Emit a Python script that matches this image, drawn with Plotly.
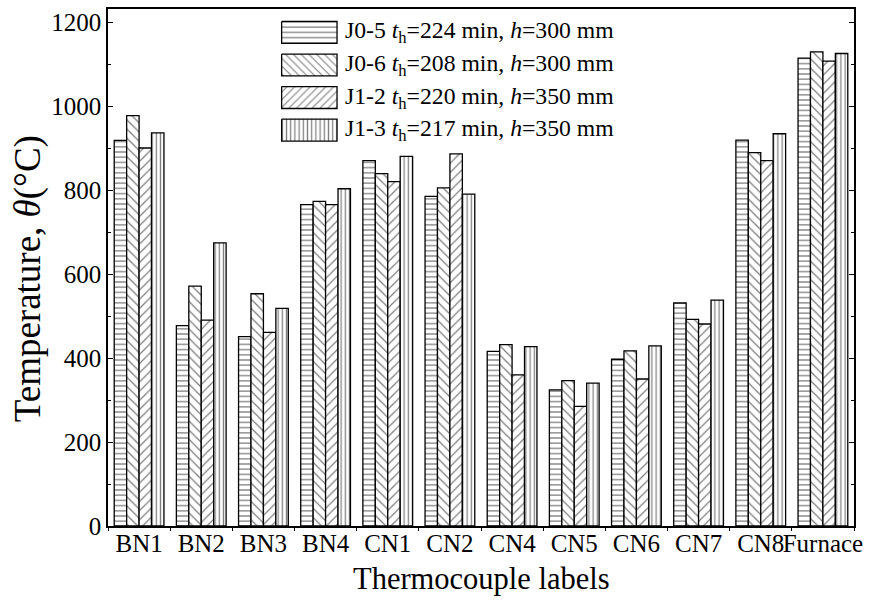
import plotly.graph_objects as go

# Thermocouple positions and measured peak temperatures (°C)
labels = ["BN1", "BN2", "BN3", "BN4", "CN1", "CN2", "CN4", "CN5", "CN6", "CN7", "CN8", "Furnace"]
j0_5 = [918, 477, 451, 765, 870, 785, 416, 324, 397, 531, 919, 1114]
j0_6 = [977, 571, 553, 773, 839, 805, 432, 346, 417, 492, 889, 1129]
j1_2 = [900, 490, 461, 765, 820, 886, 360, 285, 350, 481, 870, 1107]
j1_3 = [936, 674, 518, 803, 880, 790, 427, 340, 429, 538, 934, 1125]

series_names = [
    "J0-5 <i>t</i><sub>h</sub>=224 min, <i>h</i>=300 mm",
    "J0-6 <i>t</i><sub>h</sub>=208 min, <i>h</i>=300 mm",
    "J1-2 <i>t</i><sub>h</sub>=220 min, <i>h</i>=350 mm",
    "J1-3 <i>t</i><sub>h</sub>=217 min, <i>h</i>=350 mm",
]
series_values = [j0_5, j0_6, j1_2, j1_3]
hatches = [("-", 5.2, 0.25), ("\\", 6.5, 0.2), ("/", 6.5, 0.2), ("|", 4.2, 0.3)]

FONT = "Liberation Serif, Times New Roman, serif"

fig = go.Figure()
for name, vals, (shape, size, sol) in zip(series_names, series_values, hatches):
    fig.add_trace(go.Bar(
        x=labels, y=vals, name=name, showlegend=False,
        marker=dict(
            color="white",
            line=dict(color="black", width=1.3),
            pattern=dict(shape=shape, size=size, solidity=sol,
                         fgcolor="black", bgcolor="white"),
        ),
    ))

# Hand-drawn legend: hatched boxes on a pixel-scaled overlay axis pair
box_x0, box_x1 = 283.5, 339.5
row_centers = [30.5, 63.2, 95.9, 128.6]
box_h = 22
for (shape, size, sol), yc in zip(hatches, row_centers):
    y0, y1 = yc - box_h / 2, yc + box_h / 2
    fig.add_trace(go.Scatter(
        x=[box_x0, box_x1, box_x1, box_x0, box_x0],
        y=[y0, y0, y1, y1, y0],
        xaxis="x2", yaxis="y2", mode="lines", fill="toself",
        fillcolor="white",
        fillpattern=dict(shape=shape, size=min(size, 5.5), solidity=sol,
                         fgcolor="black", bgcolor="white"),
        line=dict(color="black", width=1.3),
        showlegend=False, hoverinfo="skip",
    ))

annotations = []
for name, yc in zip(series_names, row_centers):
    annotations.append(dict(
        x=346, y=yc, xref="x2", yref="y2", text=name, showarrow=False,
        xanchor="left", yanchor="middle",
        font=dict(family=FONT, size=23.7, color="black"),
    ))

# Axis titles
annotations.append(dict(
    x=-0.108, y=0.478, xref="paper", yref="paper",
    text="Temperature, <i>θ</i>(°C)", textangle=-90, showarrow=False,
    xanchor="center", yanchor="middle",
    font=dict(family=FONT, size=37, color="black"),
))
annotations.append(dict(
    x=0.5, y=-0.102, xref="paper", yref="paper",
    text="Thermocouple labels", showarrow=False,
    xanchor="center", yanchor="middle",
    font=dict(family=FONT, size=30.5, color="black"),
))

fig.update_layout(
    width=870, height=603,
    margin=dict(l=108, r=8, t=7, b=77),
    paper_bgcolor="white", plot_bgcolor="white",
    barmode="group", bargap=0.2, bargroupgap=0,
    font=dict(family=FONT, color="black"),
    annotations=annotations,
    xaxis=dict(
        type="category", range=[-0.5, 11.5],
        tickson="boundaries", ticks="outside", ticklen=3, tickwidth=1,
        tickcolor="black", tickangle=0, ticklabelstandoff=-6,
        showline=True, linecolor="black", linewidth=1.5, mirror=True,
        showgrid=False, zeroline=False,
        tickfont=dict(family=FONT, size=25, color="black"),
    ),
    yaxis=dict(
        range=[0, 1231], tickmode="array",
        tickvals=[0, 200, 400, 600, 800, 1000, 1200],
        ticks="inside", ticklen=5, tickwidth=1, tickcolor="black",
        minor=dict(tickvals=[100, 300, 500, 700, 900, 1100], ticks="inside",
                   ticklen=3, tickcolor="black"),
        showline=True, linecolor="black", linewidth=1.5, mirror="allticks",
        showgrid=False, zeroline=False,
        tickfont=dict(family=FONT, size=25, color="black"),
    ),
    xaxis2=dict(overlaying="x", range=[108, 862], visible=False, fixedrange=True),
    yaxis2=dict(overlaying="y", range=[526, 7], visible=False, fixedrange=True),
)

fig.write_html("out.html")
